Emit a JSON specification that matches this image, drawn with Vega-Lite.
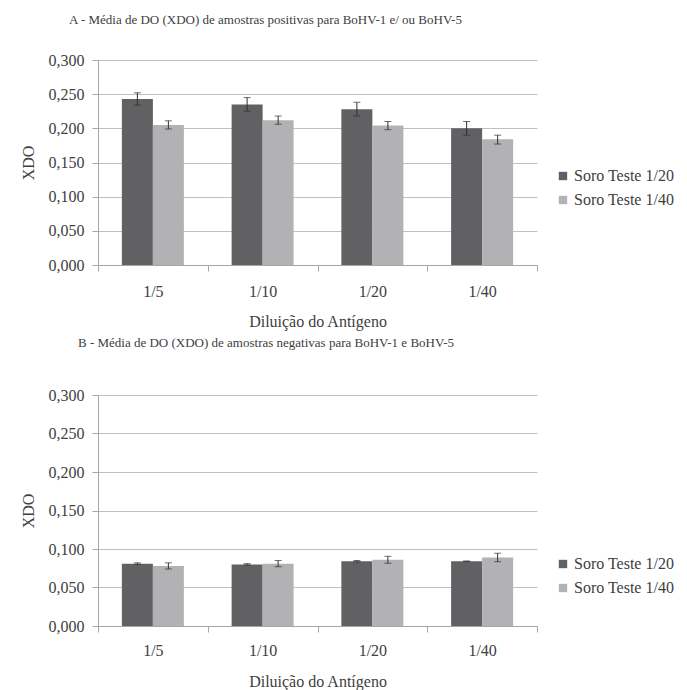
{
  "$schema": "https://vega.github.io/schema/vega-lite/v6.json",
  "padding": {"left": 20, "top": 14, "right": 5, "bottom": 5},
  "background": "white",
  "spacing": 8,
  "config": {
    "font": "'Liberation Serif', 'DejaVu Serif', serif",
    "view": {"stroke": null},
    "title": {"font": "'Liberation Serif', 'DejaVu Serif', serif", "fontSize": 13, "fontWeight": "normal", "color": "#404040", "anchor": "start", "frame": "group"},
    "axis": {"labelFont": "'Liberation Serif', 'DejaVu Serif', serif", "labelFontSize": 16, "labelColor": "#404040", "titleFont": "'Liberation Serif', 'DejaVu Serif', serif", "titleFontSize": 16, "titleFontWeight": "normal", "titleColor": "#404040", "domainColor": "#a6a6a6", "tickColor": "#a6a6a6", "gridColor": "#c0c0c0"},
    "legend": {"labelFont": "'Liberation Serif', 'DejaVu Serif', serif", "labelFontSize": 16, "labelColor": "#404040", "symbolType": "square", "symbolSize": 70, "symbolStrokeWidth": 0, "rowPadding": 8, "labelOffset": 3}
  },
  "datasets": {
    "A": [
      {"dil": "1/5", "serie": "Soro Teste 1/20", "xdo": 0.243, "lo": 0.234, "hi": 0.252},
      {"dil": "1/5", "serie": "Soro Teste 1/40", "xdo": 0.205, "lo": 0.199, "hi": 0.211},
      {"dil": "1/10", "serie": "Soro Teste 1/20", "xdo": 0.235, "lo": 0.225, "hi": 0.245},
      {"dil": "1/10", "serie": "Soro Teste 1/40", "xdo": 0.212, "lo": 0.206, "hi": 0.218},
      {"dil": "1/20", "serie": "Soro Teste 1/20", "xdo": 0.228, "lo": 0.218, "hi": 0.238},
      {"dil": "1/20", "serie": "Soro Teste 1/40", "xdo": 0.204, "lo": 0.198, "hi": 0.210},
      {"dil": "1/40", "serie": "Soro Teste 1/20", "xdo": 0.200, "lo": 0.190, "hi": 0.210},
      {"dil": "1/40", "serie": "Soro Teste 1/40", "xdo": 0.184, "lo": 0.177, "hi": 0.190}
    ],
    "B": [
      {"dil": "1/5", "serie": "Soro Teste 1/20", "xdo": 0.081, "lo": 0.080, "hi": 0.082},
      {"dil": "1/5", "serie": "Soro Teste 1/40", "xdo": 0.078, "lo": 0.074, "hi": 0.082},
      {"dil": "1/10", "serie": "Soro Teste 1/20", "xdo": 0.080, "lo": 0.079, "hi": 0.081},
      {"dil": "1/10", "serie": "Soro Teste 1/40", "xdo": 0.081, "lo": 0.077, "hi": 0.085},
      {"dil": "1/20", "serie": "Soro Teste 1/20", "xdo": 0.084, "lo": 0.083, "hi": 0.085},
      {"dil": "1/20", "serie": "Soro Teste 1/40", "xdo": 0.086, "lo": 0.0815, "hi": 0.0905},
      {"dil": "1/40", "serie": "Soro Teste 1/20", "xdo": 0.084, "lo": 0.0835, "hi": 0.0845},
      {"dil": "1/40", "serie": "Soro Teste 1/40", "xdo": 0.089, "lo": 0.0835, "hi": 0.0945}
    ]
  },
  "resolve": {"scale": {"color": "independent", "x": "independent", "y": "independent"}, "legend": {"color": "independent"}},
  "vconcat": [
    {
      "title": {"text": "A - Média de DO (XDO) de amostras positivas para BoHV-1 e/ ou BoHV-5", "offset": 25, "dx": -29},
      "data": {"name": "A"},
      "width": 439,
      "height": 205,
      "encoding": {
        "x": {"field": "dil", "type": "nominal", "sort": ["1/5", "1/10", "1/20", "1/40"], "scale": {"paddingInner": 0, "paddingOuter": 0}, "axis": {"title": "Diluição do Antígeno", "labelAngle": 0, "tickBand": "extent", "tickSize": 6, "labelPadding": 12, "titlePadding": 14, "grid": false}},
        "xOffset": {"field": "serie", "type": "nominal", "scale": {"paddingInner": 0, "paddingOuter": 0.77}}
      },
      "layer": [
        {
          "mark": {"type": "bar"},
          "encoding": {
            "y": {"field": "xdo", "type": "quantitative", "title": "XDO", "scale": {"domain": [0, 0.3]}, "axis": {"values": [0, 0.05, 0.1, 0.15, 0.2, 0.25, 0.3], "labelExpr": "replace(format(datum.value, '.3f'), '.', ',')", "tickSize": 6, "labelPadding": 8, "titlePadding": 12, "grid": true}},
            "color": {"field": "serie", "type": "nominal", "scale": {"domain": ["Soro Teste 1/20", "Soro Teste 1/40"], "range": ["#616163", "#b2b2b4"]}, "legend": {"title": null, "orient": "none", "legendX": 457, "legendY": 108}}
          }
        },
        {"mark": {"type": "rule", "color": "#303030", "strokeWidth": 1}, "encoding": {"y": {"field": "lo", "type": "quantitative", "title": "XDO", "axis": {"values": [0, 0.05, 0.1, 0.15, 0.2, 0.25, 0.3], "labelExpr": "replace(format(datum.value, '.3f'), '.', ',')", "tickSize": 6, "labelPadding": 8, "titlePadding": 12, "grid": true}}, "y2": {"field": "hi"}}},
        {"mark": {"type": "tick", "orient": "horizontal", "size": 7, "thickness": 1, "color": "#303030"}, "encoding": {"y": {"field": "lo", "type": "quantitative", "title": "XDO", "axis": {"values": [0, 0.05, 0.1, 0.15, 0.2, 0.25, 0.3], "labelExpr": "replace(format(datum.value, '.3f'), '.', ',')", "tickSize": 6, "labelPadding": 8, "titlePadding": 12, "grid": true}}}},
        {"mark": {"type": "tick", "orient": "horizontal", "size": 7, "thickness": 1, "color": "#303030"}, "encoding": {"y": {"field": "hi", "type": "quantitative", "title": "XDO", "axis": {"values": [0, 0.05, 0.1, 0.15, 0.2, 0.25, 0.3], "labelExpr": "replace(format(datum.value, '.3f'), '.', ',')", "tickSize": 6, "labelPadding": 8, "titlePadding": 12, "grid": true}}}}
      ]
    },
    {
      "title": {"text": "B - Média de DO (XDO) de amostras negativas para BoHV-1 e BoHV-5", "offset": 37, "dx": -20},
      "data": {"name": "B"},
      "width": 439,
      "height": 231,
      "encoding": {
        "x": {"field": "dil", "type": "nominal", "sort": ["1/5", "1/10", "1/20", "1/40"], "scale": {"paddingInner": 0, "paddingOuter": 0}, "axis": {"title": "Diluição do Antígeno", "labelAngle": 0, "tickBand": "extent", "tickSize": 6, "labelPadding": 10, "titlePadding": 15, "grid": false}},
        "xOffset": {"field": "serie", "type": "nominal", "scale": {"paddingInner": 0, "paddingOuter": 0.78}}
      },
      "layer": [
        {
          "mark": {"type": "bar"},
          "encoding": {
            "y": {"field": "xdo", "type": "quantitative", "title": "XDO", "scale": {"domain": [0, 0.3]}, "axis": {"values": [0, 0.05, 0.1, 0.15, 0.2, 0.25, 0.3], "labelExpr": "replace(format(datum.value, '.3f'), '.', ',')", "tickSize": 6, "labelPadding": 8, "titlePadding": 12, "grid": true}},
            "color": {"field": "serie", "type": "nominal", "scale": {"domain": ["Soro Teste 1/20", "Soro Teste 1/40"], "range": ["#616163", "#b2b2b4"]}, "legend": {"title": null, "orient": "none", "legendX": 457, "legendY": 161}}
          }
        },
        {"mark": {"type": "rule", "color": "#303030", "strokeWidth": 1}, "encoding": {"y": {"field": "lo", "type": "quantitative", "title": "XDO", "axis": {"values": [0, 0.05, 0.1, 0.15, 0.2, 0.25, 0.3], "labelExpr": "replace(format(datum.value, '.3f'), '.', ',')", "tickSize": 6, "labelPadding": 8, "titlePadding": 12, "grid": true}}, "y2": {"field": "hi"}}},
        {"mark": {"type": "tick", "orient": "horizontal", "size": 7, "thickness": 1, "color": "#303030"}, "encoding": {"y": {"field": "lo", "type": "quantitative", "title": "XDO", "axis": {"values": [0, 0.05, 0.1, 0.15, 0.2, 0.25, 0.3], "labelExpr": "replace(format(datum.value, '.3f'), '.', ',')", "tickSize": 6, "labelPadding": 8, "titlePadding": 12, "grid": true}}}},
        {"mark": {"type": "tick", "orient": "horizontal", "size": 7, "thickness": 1, "color": "#303030"}, "encoding": {"y": {"field": "hi", "type": "quantitative", "title": "XDO", "axis": {"values": [0, 0.05, 0.1, 0.15, 0.2, 0.25, 0.3], "labelExpr": "replace(format(datum.value, '.3f'), '.', ',')", "tickSize": 6, "labelPadding": 8, "titlePadding": 12, "grid": true}}}}
      ]
    }
  ]
}
